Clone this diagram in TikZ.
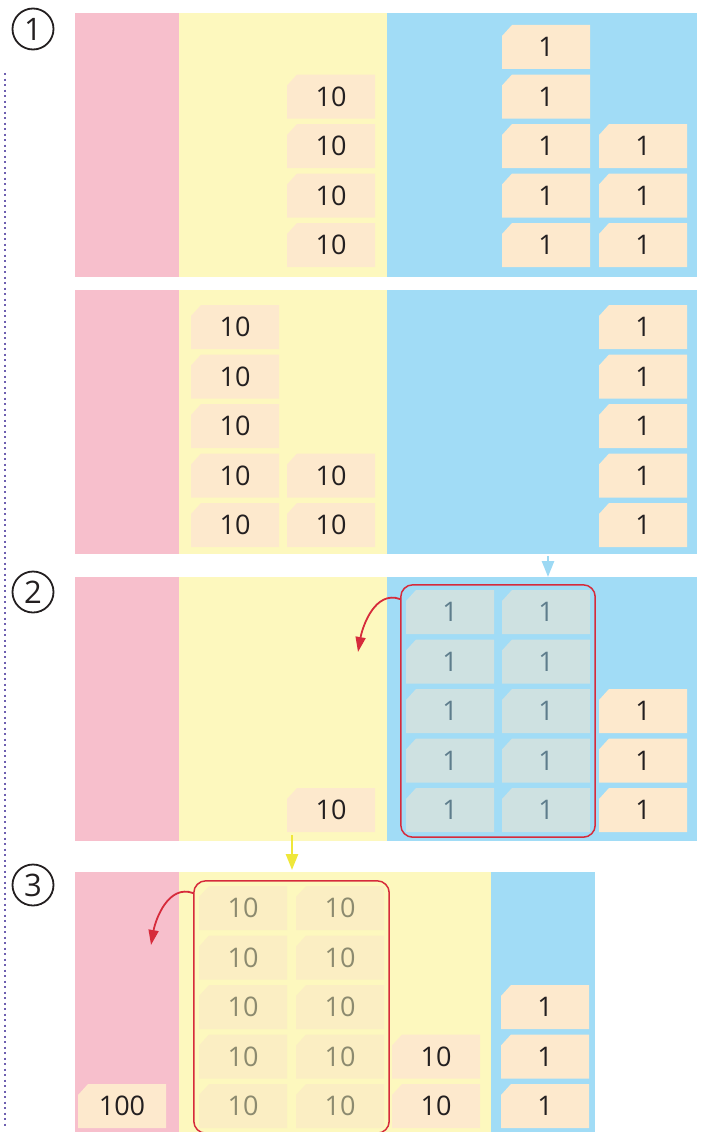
\documentclass[tikz,border=0pt]{standalone}
\usepackage{fontspec}
\setmainfont{Open Sans}
\definecolor{hund}{HTML}{F7BFCC}
\definecolor{tens}{HTML}{FDF8BE}
\definecolor{ones}{HTML}{A1DCF6}
\definecolor{cardfill}{HTML}{FDE9CD}
\definecolor{ink}{HTML}{231F20}
\definecolor{onesfade}{HTML}{CEE1E1}
\definecolor{onestext}{HTML}{5E7D8C}
\definecolor{tensfade}{HTML}{FBEEC3}
\definecolor{tenstext}{HTML}{8C8A6F}
\definecolor{swap}{HTML}{D62B3B}
\definecolor{yelarrow}{HTML}{EFE73A}
\definecolor{bluarrow}{HTML}{9DD9F4}
\definecolor{dots}{HTML}{6E5FB0}
\usetikzlibrary{arrows.meta, positioning, calc, fit}
\tikzset{
  cardtint/.store in=\cardtint, cardtint=cardfill,
  card/.style={rectangle, text=ink, minimum width=88pt, minimum height=44pt,
               inner sep=0pt, font=\fontsize{27}{30}\selectfont,
               path picture={\fill[\cardtint]
                 ($(path picture bounding box.north west)+(10pt,0)$) --
                 (path picture bounding box.north east) --
                 (path picture bounding box.south east) --
                 (path picture bounding box.south west) --
                 ($(path picture bounding box.north west)+(0,-11pt)$) -- cycle;}},
  onesfaded/.style={card, cardtint=onesfade, text=onestext},
  tensfaded/.style={card, cardtint=tensfade, text=tenstext},
  bundle/.style={draw=swap, line width=1.5pt, rounded corners=12pt, inner sep=5pt},
  regroup/.style={-{Triangle[length=15pt,width=10pt]}, line width=1.8pt, color=swap},
  carry/.style={-{Triangle[length=16pt,width=12pt]}, line width=2.5pt},
  stagenum/.style={circle, draw=ink, line width=1.8pt, minimum size=41pt, inner sep=0pt,
                   text=ink, font=\fontsize{31}{32}\selectfont},
}
\begin{document}
\begin{tikzpicture}[x=1pt,y=-1pt]
\useasboundingbox (0,0) rectangle (703,1132);
% place-value columns
\foreach \top in {13,290,577}{
  \fill[hund] (75,\top) rectangle ++(104,264);
  \fill[tens] (179,\top) rectangle ++(208,264);
  \fill[ones] (387,\top) rectangle ++(310,264);
}
\fill[hund] (75,872) rectangle (179,1132);
\fill[tens] (179,872) rectangle (491,1132);
\fill[ones] (491,872) rectangle (595,1132);
\draw[dots, line width=2.4pt, dash pattern=on 2.4pt off 3.1pt] (5,73) -- (5,1128);

\node[stagenum] (s1) at (33,29) {1};
\node[stagenum] (s2) at (33,592) {2};
\node[stagenum] (s3) at (33,885) {3};

% stage 1
\foreach \r in {1,...,4} \node[card] (a10-\r) at (331,{47+49.5*\r}) {10};
\foreach \r in {0,...,4} \node[card] (a1-\r) at (546,{47+49.5*\r}) {1};
\foreach \r in {2,...,4} \node[card] (ab1-\r) at (643,{47+49.5*\r}) {1};
\foreach \r in {0,...,4} \node[card] (b10-\r) at (235,{327+49.5*\r}) {10};
\foreach \r in {3,4} \node[card] (bb10-\r) at (331,{327+49.5*\r}) {10};
\foreach \r in {0,...,4} \node[card] (b1-\r) at (643,{327+49.5*\r}) {1};

% stage 2
\node[card] (c10-4) at (331,{612+49.5*4}) {10};
\foreach \r in {0,...,4}{
  \node[onesfaded] (cg-\r) at (450,{612+49.5*\r}) {1};
  \node[onesfaded] (cgg-\r) at (546,{612+49.5*\r}) {1};
}
\foreach \r in {2,...,4} \node[card] (c1-\r) at (643,{612+49.5*\r}) {1};
\node[bundle, fit=(cg-0)(cgg-4)] (cgrp) {};

% stage 3
\node[card] (d100) at (122,{908+49.5*4}) {100};
\foreach \r in {0,...,4}{
  \node[tensfaded] (dg-\r) at (243,{908+49.5*\r}) {10};
  \node[tensfaded] (dgg-\r) at (340,{908+49.5*\r}) {10};
}
\foreach \r in {3,4} \node[card] (d10-\r) at (436,{908+49.5*\r}) {10};
\foreach \r in {2,...,4} \node[card] (d1-\r) at (545,{908+49.5*\r}) {1};
\node[bundle, fit=(dg-0)(dgg-4)] (dgrp) {};

\coordinate (onesout) at (548,556);
\coordinate (onesin) at (548,577);
\coordinate (tensout) at (292,835);
\coordinate (tensin) at (292,870);
\coordinate (cdrop) at (358,652);
\coordinate (ddrop) at (151,945);
\draw[carry, bluarrow] (onesout) -- (onesin);
\draw[carry, yelarrow] (tensout) -- (tensin);
\draw[regroup] ([yshift=-15pt]cgrp.north west) to[out=160,in=80] (cdrop);
\draw[regroup] ([yshift=-13pt]dgrp.north west) to[out=160,in=80] (ddrop);
\end{tikzpicture}
\end{document}
